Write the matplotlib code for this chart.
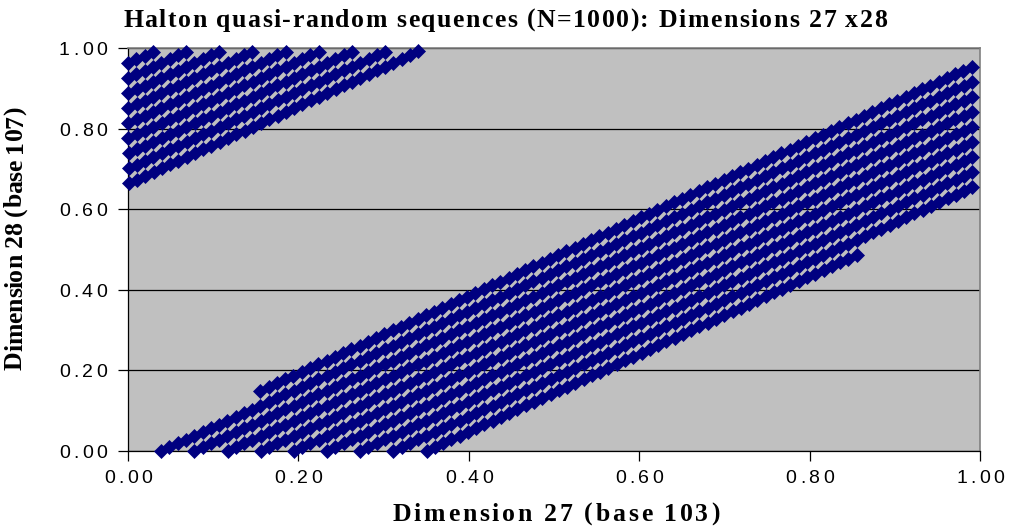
import numpy as np
import matplotlib
matplotlib.use("Agg")
import matplotlib.pyplot as plt
from matplotlib.font_manager import FontProperties, findfont, get_font
from matplotlib.transforms import IdentityTransform

# Halton sequence parameters for the two plotted dimensions
n_points = 1000
first_index = 16
base_x = 103   # dimension 27
base_y = 107   # dimension 28
x_ticks = [0.0, 0.2, 0.4, 0.6, 0.8, 1.0]
y_ticks = [0.0, 0.2, 0.4, 0.6, 0.8, 1.0]
tick_labels = ["0.00", "0.20", "0.40", "0.60", "0.80", "1.00"]
title = "Halton quasi-random sequences (N=1000): Dimensions 27 x28"
x_label = "Dimension 27 (base 103)"
y_label = "Dimension 28 (base 107)"


def radical_inverse(i, base):
    """Van der Corput radical inverse of integer i in the given base."""
    f, r = 1.0, 0.0
    while i > 0:
        f /= base
        r += f * (i % base)
        i //= base
    return r


idx = np.arange(first_index, first_index + n_points)
xs = np.array([radical_inverse(int(i), base_x) for i in idx])
ys = np.array([radical_inverse(int(i), base_y) for i in idx])

W, H = 1009, 527
fig = plt.figure(figsize=(W / 100, H / 100), dpi=100)
L, R, T, B = 128, 980, 48, 451
ax = fig.add_axes([L / W, 1 - B / H, (R - L) / W, (B - T) / H])
ax.set_facecolor("#C0C0C0")


def spaced_text(s, x, y, size, family, weight, width, ha="center",
                rotation=0, color="black"):
    """Draw s with letters spread evenly so the run spans `width` pixels.
    (x, y) are pixel coordinates from the top-left; y is the baseline."""
    prop = FontProperties(family=family, weight=weight, size=size)
    font = get_font(findfont(prop))
    font.set_size(size, fig.dpi)
    adv = [font.load_char(ord(c)).linearHoriAdvance / 65536 for c in s]
    gap = (width - sum(adv)) / max(len(s) - 1, 1)
    if ha == "center":
        pos = -width / 2
    elif ha == "right":
        pos = -width
    else:
        pos = 0.0
    for c, a in zip(s, adv):
        if c != " ":
            if rotation == 90:
                px, py = x, (H - y) + pos
            else:
                px, py = x + pos, H - y
            fig.text(px, py, c, transform=IdentityTransform(),
                     fontproperties=prop, color=color, ha="left",
                     va="baseline", rotation=rotation, rotation_mode="anchor")
        pos += a + gap


ax.plot(xs, ys, linestyle="none", marker="D", markersize=7,
        color="#000080", markeredgecolor="#000080", markeredgewidth=0.5,
        clip_on=False, zorder=3)

ax.set_xlim(0, 1)
ax.set_ylim(0, 1)
ax.set_xticks(x_ticks)
ax.set_yticks(y_ticks)
ax.set_xticklabels([])
ax.set_yticklabels([])

ax.yaxis.grid(True, color="black", linewidth=0.9)
ax.set_axisbelow(True)
ax.tick_params(axis="both", direction="out", length=7, width=0.9, color="black")

for side in ["top", "right"]:
    ax.spines[side].set_color("#808080")
    ax.spines[side].set_linewidth(1.2)
for side in ["left", "bottom"]:
    ax.spines[side].set_color("black")
    ax.spines[side].set_linewidth(0.9)

# tick labels, letter-spaced
for v, lab in zip(x_ticks, tick_labels):
    spaced_text(lab, L + v * (R - L), 483, 14, "Liberation Sans", "normal", 48)
for v, lab in zip(y_ticks, tick_labels):
    spaced_text(lab, 107, B - v * (B - T) + 7, 14, "Liberation Sans",
                "normal", 48, ha="right")

spaced_text(title, 505, 27, 18.5, "Liberation Serif", "bold", 764)
spaced_text(x_label, 556, 521, 18.5, "Liberation Serif", "bold", 327)
spaced_text(y_label, 22, 238, 18.5, "Liberation Serif", "bold", 263,
            rotation=90)

fig.savefig("out.png", dpi=100, facecolor="white")
